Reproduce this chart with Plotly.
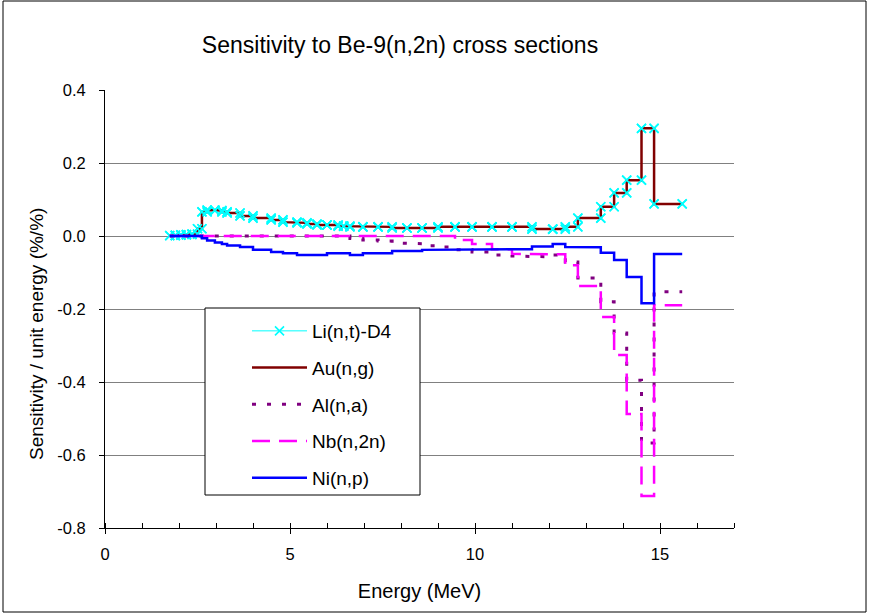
import plotly.graph_objects as go

# Energy group boundaries (MeV)
edges = [1.75, 1.9, 2.05, 2.2, 2.35, 2.5, 2.62, 2.76, 2.97, 3.16, 3.3, 3.65, 4.0,
         4.49, 4.81, 5.19, 5.46, 5.73, 6.0, 6.3, 6.45, 6.62, 6.97, 7.38, 7.76,
         8.16, 8.57, 9.0, 9.46, 9.92, 10.46, 11.0, 11.54, 12.1, 12.44, 12.78,
         13.4, 13.76, 14.1, 14.5, 14.84, 15.6]

# Sensitivity per unit energy for each group
li_nt = [0.001, 0.002, 0.003, 0.004, 0.005, 0.02, 0.066, 0.071, 0.070, 0.066,
         0.063, 0.055, 0.049, 0.044, 0.038, 0.036, 0.033, 0.030, 0.030, 0.027,
         0.027, 0.025, 0.025, 0.025, 0.022, 0.022, 0.022, 0.025, 0.025, 0.025,
         0.025, 0.025, 0.019, 0.019, 0.025, 0.049, 0.080, 0.118, 0.153, 0.295,
         0.088]
au_ng = [0.001, 0.002, 0.003, 0.004, 0.005, 0.02, 0.066, 0.071, 0.070, 0.066,
         0.063, 0.055, 0.049, 0.044, 0.038, 0.036, 0.033, 0.030, 0.030, 0.027,
         0.027, 0.025, 0.025, 0.025, 0.022, 0.022, 0.022, 0.025, 0.025, 0.025,
         0.025, 0.025, 0.019, 0.019, 0.025, 0.049, 0.080, 0.118, 0.153, 0.295,
         0.088]
al_na = [0.0] * 21 + [-0.007, -0.011, -0.014, -0.019, -0.021, -0.027, -0.030,
                      -0.038, -0.044, -0.052, -0.055, -0.057, -0.052, -0.071,
                      -0.115, -0.18, -0.266, -0.395, -0.567, -0.153]
nb_n2n = [0.0] * 28 + [-0.011, -0.022, -0.036, -0.049, -0.050, -0.050, -0.080,
                       -0.137, -0.222, -0.326, -0.488, -0.712, -0.19]
ni_np = [0.0] * 6 + [-0.006, -0.012, -0.018, -0.022, -0.026, -0.030, -0.038,
                     -0.044, -0.047, -0.052, -0.052, -0.052, -0.047, -0.047,
                     -0.047, -0.052, -0.047, -0.047, -0.041, -0.041, -0.038,
                     -0.038, -0.038, -0.038, -0.038, -0.036, -0.029, -0.022,
                     -0.030, -0.031, -0.046, -0.066, -0.112, -0.184, -0.049]

x_ticks = [0, 5, 10, 15]
y_ticks = [-0.8, -0.6, -0.4, -0.2, 0.0, 0.2, 0.4]


def steps(values):
    """Histogram-style outline: each group drawn from its lower to upper edge."""
    xs, ys = [], []
    for i, v in enumerate(values):
        xs += [edges[i], edges[i + 1]]
        ys += [v, v]
    return xs, ys


FONT = "Arial, Liberation Sans, sans-serif"

fig = go.Figure()

lx, ly = steps(li_nt)
fig.add_trace(go.Scatter(
    x=lx, y=ly, mode="lines+markers", name="Li(n,t)-D4",
    legendgroup="li", line=dict(color="#00FFFF", width=1),
    marker=dict(symbol="x-thin", size=9, color="#00FFFF",
                line=dict(color="#00FFFF", width=1.6)),
))
ax, ay = steps(au_ng)
fig.add_trace(go.Scatter(
    x=ax, y=ay, mode="lines", name="Au(n,g)", legendgroup="au",
    line=dict(color="#800000", width=2.5),
))
# Li markers again so they sit above the Au line
fig.add_trace(go.Scatter(
    x=lx, y=ly, mode="markers", showlegend=False, legendgroup="li",
    marker=dict(symbol="x-thin", size=9, color="#00FFFF",
                line=dict(color="#00FFFF", width=1.6)),
    hoverinfo="skip",
))
bx, by = steps(al_na)
fig.add_trace(go.Scatter(
    x=bx, y=by, mode="lines", name="Al(n,a)", legendgroup="al",
    line=dict(color="#800080", width=3, dash="4px,11px"),
))
nx, ny = steps(nb_n2n)
fig.add_trace(go.Scatter(
    x=nx, y=ny, mode="lines", name="Nb(n,2n)", legendgroup="nb",
    line=dict(color="#FF00FF", width=2.5, dash="18px,9px"),
))
px_, py_ = steps(ni_np)
fig.add_trace(go.Scatter(
    x=px_, y=py_, mode="lines", name="Ni(n,p)", legendgroup="ni",
    line=dict(color="#0000FF", width=2.5),
))

# plot-area geometry in pixels
L, R, T, B = 105, 734, 90, 528
W, H = 870, 616


def px2paper_x(p):
    return (p - L) / (R - L)


def px2paper_y(p):
    return (B - p) / (B - T)


fig.update_layout(
    width=W, height=H,
    margin=dict(l=L, r=W - R, t=T, b=H - B),
    paper_bgcolor="white", plot_bgcolor="white",
    font=dict(family=FONT, size=16, color="black"),
    title=dict(text="Sensitivity to Be-9(n,2n) cross sections",
               x=px2paper_x(400), xref="paper", xanchor="center",
               y=1 - 45 / H, yanchor="middle",
               font=dict(family=FONT, size=23, color="black")),
    xaxis=dict(range=[0, 17], tickvals=x_ticks, ticktext=[str(v) for v in x_ticks],
               showgrid=False, zeroline=False,
               showline=True, linecolor="black", linewidth=1,
               ticks="outside", ticklen=5, tickcolor="black",
               minor=dict(dtick=1, tick0=0, ticks="inside", ticklen=5,
                          tickcolor="black", showgrid=False),
               tickfont=dict(size=16.5), ticklabelstandoff=6,
               title=dict(text="Energy (MeV)", font=dict(size=20), standoff=22)),
    yaxis=dict(range=[-0.8, 0.4], tickvals=y_ticks,
               ticktext=[f"{v:.1f}" for v in y_ticks],
               showgrid=True, gridcolor="#808080", gridwidth=1,
               zeroline=False,
               showline=True, linecolor="black", linewidth=1,
               ticks="outside", ticklen=5, tickcolor="black",
               tickfont=dict(size=16.5), ticklabelstandoff=10),
    legend=dict(x=px2paper_x(247), y=px2paper_y(312), xanchor="left", yanchor="top",
                bgcolor="rgba(0,0,0,0)", borderwidth=0,
                font=dict(family=FONT, size=19), itemwidth=55,
                tracegroupgap=9, traceorder="grouped"),
    showlegend=True,
)

# legend frame
fig.add_shape(type="rect", xref="paper", yref="paper",
              x0=px2paper_x(205), x1=px2paper_x(420),
              y0=px2paper_y(495), y1=px2paper_y(308),
              line=dict(color="black", width=1), fillcolor="white", layer="above")
# outer chart frame
fig.add_shape(type="rect", xref="paper", yref="paper",
              x0=px2paper_x(3), x1=px2paper_x(866),
              y0=px2paper_y(612), y1=px2paper_y(1),
              line=dict(color="black", width=1))

fig.add_annotation(text="Sensitivity / unit energy (%/%)", textangle=-90,
                   xref="paper", yref="paper",
                   x=px2paper_x(36), y=px2paper_y(334),
                   xanchor="center", yanchor="middle", showarrow=False,
                   font=dict(family=FONT, size=19))

fig.write_html("out.html")
